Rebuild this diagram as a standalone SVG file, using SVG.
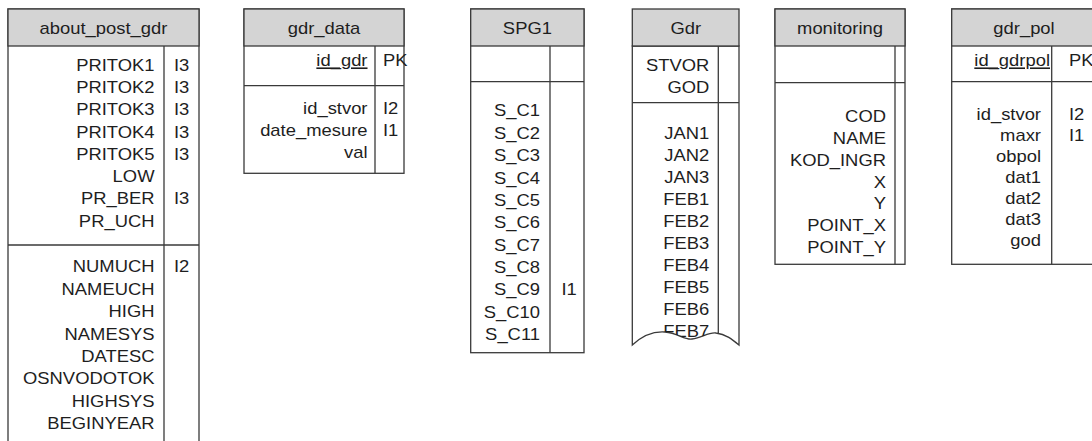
<svg xmlns="http://www.w3.org/2000/svg" width="1092" height="441" viewBox="0 0 1092 441">
  <defs>
    <style>
      .frame { fill: #ffffff; stroke: #3a3a3a; stroke-width: 1.3; }
      .head { fill: #d4d4d4; stroke: #3a3a3a; stroke-width: 1.3; }
      .rule { stroke: #3a3a3a; stroke-width: 1.3; fill: none; }
      text { font-family: "Liberation Sans", Arial, sans-serif; font-size: 16px; fill: #1e1e1e; }
      .r text { text-anchor: end; }
      .c { text-anchor: middle; }
      .key { text-decoration: underline; }
    </style>
    <!-- body area of the Gdr table, cut off by a torn edge -->
    <clipPath id="gdrTorn">
      <path d="M632.3,46 V345 C642,336 652,331 665,332 C678,333 684,340 692,339 C702,338 708,332 716,333 C726,334 733,340 739,345 V46 Z"/>
    </clipPath>
  </defs>

  <!-- about_post_gdr: runs past the lower edge of the sheet -->
  <g id="about_post_gdr">
    <rect class="frame" x="8" y="9" width="191" height="445"/>
    <rect class="head" x="8" y="9" width="191" height="37"/>
    <line class="rule" x1="164" y1="46" x2="164" y2="454"/>
    <line class="rule" x1="8" y1="245" x2="199" y2="245"/>
    <g transform="translate(103.5 0) scale(1.15 1)"><text class="c" y="34.5">about_post_gdr</text></g>
    <g class="r" transform="translate(154.5 0) scale(1.15 1)">
      <text y="70.7">PRITOK1</text>
      <text y="93">PRITOK2</text>
      <text y="115.3">PRITOK3</text>
      <text y="137.6">PRITOK4</text>
      <text y="159.9">PRITOK5</text>
      <text y="182.2">LOW</text>
      <text y="204.5">PR_BER</text>
      <text y="226.8">PR_UCH</text>
      <text y="272.5">NUMUCH</text>
      <text y="294.9">NAMEUCH</text>
      <text y="317.2">HIGH</text>
      <text y="339.6">NAMESYS</text>
      <text y="361.9">DATESC</text>
      <text y="384.3">OSNVODOTOK</text>
      <text y="406.6">HIGHSYS</text>
      <text y="429">BEGINYEAR</text>
    </g>
    <g transform="translate(174 0) scale(1.15 1)">
      <text y="70.7">I3</text>
      <text y="93">I3</text>
      <text y="115.3">I3</text>
      <text y="137.6">I3</text>
      <text y="159.9">I3</text>
      <text y="204.5">I3</text>
      <text y="272.5">I2</text>
    </g>
  </g>

  <!-- gdr_data -->
  <g id="gdr_data">
    <rect class="frame" x="244" y="9" width="160" height="164.3"/>
    <rect class="head" x="244" y="9" width="160" height="37"/>
    <line class="rule" x1="375" y1="46" x2="375" y2="173.3"/>
    <line class="rule" x1="244" y1="85.7" x2="404" y2="85.7"/>
    <g transform="translate(324 0) scale(1.15 1)"><text class="c" y="34.5">gdr_data</text></g>
    <g class="r" transform="translate(367.5 0) scale(1.15 1)">
      <text class="key" y="66.5">id_gdr</text>
      <text y="114.5">id_stvor</text>
      <text y="136.5">date_mesure</text>
      <text y="158.5">val</text>
    </g>
    <g transform="translate(383 0) scale(1.15 1)">
      <text y="66.5">PK</text>
      <text y="114.5">I2</text>
      <text y="136.5">I1</text>
    </g>
  </g>

  <!-- SPG1 -->
  <g id="SPG1">
    <rect class="frame" x="470.7" y="9" width="113.3" height="343.7"/>
    <rect class="head" x="470.7" y="9" width="113.3" height="37"/>
    <line class="rule" x1="550" y1="46" x2="550" y2="352.7"/>
    <line class="rule" x1="470.7" y1="81.7" x2="584" y2="81.7"/>
    <g transform="translate(527.4 0) scale(1.15 1)"><text class="c" y="34.5">SPG1</text></g>
    <g class="r" transform="translate(540 0) scale(1.15 1)">
      <text y="116.5">S_C1</text>
      <text y="138.9">S_C2</text>
      <text y="161.2">S_C3</text>
      <text y="183.6">S_C4</text>
      <text y="205.9">S_C5</text>
      <text y="228.3">S_C6</text>
      <text y="250.6">S_C7</text>
      <text y="273">S_C8</text>
      <text y="295.3">S_C9</text>
      <text y="317.7">S_C10</text>
      <text y="340">S_C11</text>
    </g>
    <g transform="translate(561.5 0) scale(1.15 1)">
      <text y="295.3">I1</text>
    </g>
  </g>

  <!-- Gdr: long table shown with a torn lower edge -->
  <g id="Gdr">
    <path class="frame" d="M632.3,46 V345 C642,336 652,331 665,332 C678,333 684,340 692,339 C702,338 708,332 716,333 C726,334 733,340 739,345 V46 Z"/>
    <rect class="head" x="632.3" y="9" width="106.7" height="37"/>
    <g clip-path="url(#gdrTorn)">
      <line class="rule" x1="718.3" y1="46" x2="718.3" y2="350"/>
      <line class="rule" x1="632.3" y1="102.7" x2="739" y2="102.7"/>
      <g class="r" transform="translate(709.3 0) scale(1.15 1)">
        <text y="71.5">STVOR</text>
        <text y="93.5">GOD</text>
        <text y="139">JAN1</text>
        <text y="161">JAN2</text>
        <text y="183">JAN3</text>
        <text y="205">FEB1</text>
        <text y="227">FEB2</text>
        <text y="249">FEB3</text>
        <text y="271">FEB4</text>
        <text y="293">FEB5</text>
        <text y="315">FEB6</text>
        <text y="337">FEB7</text>
      </g>
    </g>
    <g transform="translate(685.7 0) scale(1.15 1)"><text class="c" y="34.5">Gdr</text></g>
  </g>

  <!-- monitoring -->
  <g id="monitoring">
    <rect class="frame" x="775" y="9" width="130" height="255.3"/>
    <rect class="head" x="775" y="9" width="130" height="37"/>
    <line class="rule" x1="895" y1="46" x2="895" y2="264.3"/>
    <line class="rule" x1="775" y1="82.7" x2="905" y2="82.7"/>
    <g transform="translate(840 0) scale(1.15 1)"><text class="c" y="34.5">monitoring</text></g>
    <g class="r" transform="translate(886 0) scale(1.15 1)">
      <text y="122.5">COD</text>
      <text y="144.3">NAME</text>
      <text y="166">KOD_INGR</text>
      <text y="187.8">X</text>
      <text y="209.5">Y</text>
      <text y="231.3">POINT_X</text>
      <text y="253">POINT_Y</text>
    </g>
  </g>

  <!-- gdr_pol: right side runs past the edge of the sheet -->
  <g id="gdr_pol">
    <rect class="frame" x="951.7" y="9" width="144.3" height="255.3"/>
    <rect class="head" x="951.7" y="9" width="144.3" height="37"/>
    <line class="rule" x1="1051.7" y1="46" x2="1051.7" y2="264.3"/>
    <line class="rule" x1="951.7" y1="81.7" x2="1096" y2="81.7"/>
    <g transform="translate(1024 0) scale(1.15 1)"><text class="c" y="34.5">gdr_pol</text></g>
    <g class="r" transform="translate(1050 0) scale(1.15 1)">
      <text class="key" y="66.5">id_gdrpol</text>
    </g>
    <g class="r" transform="translate(1041 0) scale(1.15 1)">
      <text y="120.5">id_stvor</text>
      <text y="141.5">maxr</text>
      <text y="162.5">obpol</text>
      <text y="183.5">dat1</text>
      <text y="204.5">dat2</text>
      <text y="225.5">dat3</text>
      <text y="246.5">god</text>
    </g>
    <g transform="translate(1069 0) scale(1.15 1)">
      <text y="66.5">PK</text>
      <text y="120.5">I2</text>
      <text y="141.5">I1</text>
    </g>
  </g>

  <!-- no relationships are drawn between these tables -->
  <g id="connectors"/>
</svg>
